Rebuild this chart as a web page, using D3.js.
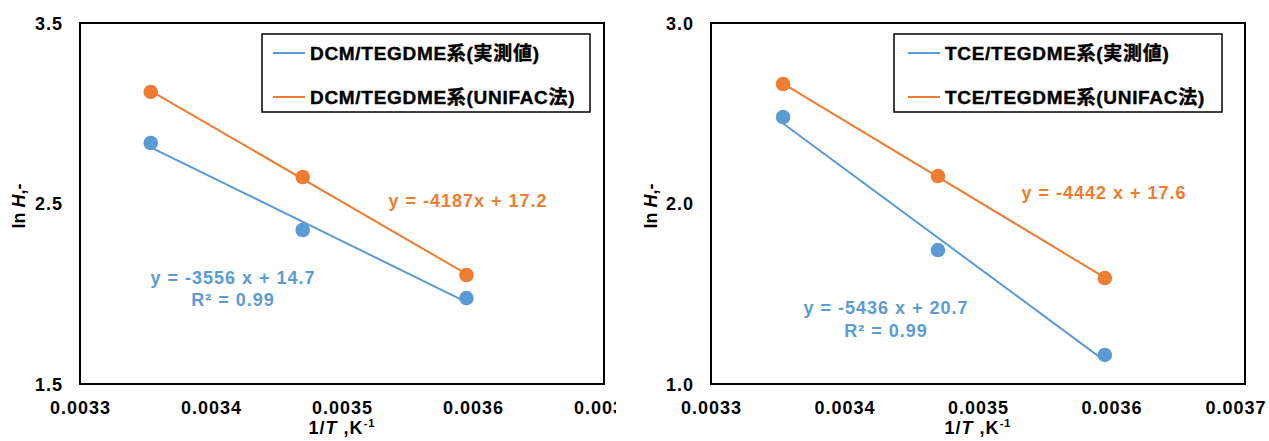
<!DOCTYPE html>
<html>
<head>
<meta charset="utf-8">
<script src="https://cdn.jsdelivr.net/npm/d3@7"></script>
<style>
  body { margin: 0; background: #fff; }
  svg text { font-family: Arial, "Liberation Sans", "Noto Sans CJK JP", sans-serif; font-weight: bold; }
</style>
</head>
<body>
<svg id="chart" width="1269" height="441"></svg>
<script>
// 1/T values (T = 298.15, 288.15, 278.15 K)
var invT = [0.003354, 0.003470, 0.003595];

// ln H values
var dcmMeasured = [2.835, 2.353, 1.976];
var dcmUnifac   = [3.118, 2.647, 2.104];
var tceMeasured = [2.479, 1.742, 1.161];
var tceUnifac   = [2.662, 2.152, 1.587];

var xTicks = [0.0033, 0.0034, 0.0035, 0.0036, 0.0037];
var dcmYTicks = [1.5, 2.5, 3.5];
var tceYTicks = [1.0, 2.0, 3.0];

var dcmLegend = ["DCM/TEGDME系(実測値)", "DCM/TEGDME系(UNIFAC法)"];
var tceLegend = ["TCE/TEGDME系(実測値)", "TCE/TEGDME系(UNIFAC法)"];

var dcmEq = ["y = -3556 x + 14.7", "R² = 0.99", "y = -4187x + 17.2"];
var tceEq = ["y = -5436 x + 20.7", "R² = 0.99", "y = -4442 x + 17.6"];

var blue = "#5B9BD5", orange = "#ED7D31";

var svg = d3.select("#chart");

// least squares fit for the trendline
function fit(xs, ys) {
    var mx = d3.mean(xs), my = d3.mean(ys);
    var sxy = d3.sum(xs, function(x, i) { return (x - mx) * (ys[i] - my); });
    var sxx = d3.sum(xs, function(x) { return (x - mx) * (x - mx); });
    var b = sxy / sxx;
    return { slope: b, icpt: my - b * mx };
}

function drawPanel(p) {
    var g = svg.append("g").attr("clip-path", "url(#" + p.id + ")");
    svg.append("clipPath").attr("id", p.id)
        .append("rect").attr("x", p.clip[0]).attr("y", 0)
        .attr("width", p.clip[1] - p.clip[0]).attr("height", 441);

    var x = d3.scaleLinear().domain([0.0033, 0.0037]).range([p.left, p.right]);
    var y = d3.scaleLinear().domain(d3.extent(p.yTicks)).range([384, 23]);

    // x axis labels
    var xa = g.append("g").attr("transform", "translate(0,384)")
        .call(d3.axisBottom(x).tickValues(xTicks).tickFormat(d3.format(".4f")).tickSize(0));
    xa.select(".domain").remove();
    xa.selectAll("text").attr("dy", null).attr("y", 30)
        .style("font-size", "18px").style("letter-spacing", "1px").attr("fill", "#000");
    if (p.lastLabelEnd) {
        xa.selectAll(".tick:last-of-type text")
            .attr("text-anchor", "end").attr("x", p.lastLabelEnd - p.right);
    }

    var ya = g.append("g").attr("transform", "translate(" + p.left + ",0)")
        .call(d3.axisLeft(y).tickValues(p.yTicks).tickFormat(d3.format(".1f")).tickSize(0));
    ya.select(".domain").remove();
    ya.selectAll("text").attr("x", -17).attr("dy", "0.35em")
        .style("font-size", "18px").style("letter-spacing", "1px").attr("fill", "#000");

    // plot border
    g.append("rect").attr("x", p.left).attr("y", 23)
        .attr("width", p.right - p.left).attr("height", 361)
        .attr("fill", "none").attr("stroke", "#000").attr("stroke-width", 2);

    // axis titles
    var yt = g.append("text")
        .attr("transform", "translate(" + p.ytX + ",206) rotate(-90)")
        .attr("text-anchor", "middle").style("font-size", "18px");
    yt.append("tspan").text("ln ");
    yt.append("tspan").style("font-style", "italic").text("H");
    yt.append("tspan").text(",-");

    var xt = g.append("text").attr("x", (p.left + p.right) / 2).attr("y", 434)
        .attr("text-anchor", "middle").style("font-size", "18px").style("letter-spacing", "1px");
    xt.append("tspan").text("1/");
    xt.append("tspan").style("font-style", "italic").text("T");
    xt.append("tspan").text(" ,K");
    xt.append("tspan").attr("dy", -7).style("font-size", "11px").text("-1");

    // series
    p.series.forEach(function(s) {
        var f = fit(invT, s.values);
        var x0 = d3.min(invT), x1 = d3.max(invT);
        g.append("line")
            .attr("x1", x(x0)).attr("y1", y(f.slope * x0 + f.icpt))
            .attr("x2", x(x1)).attr("y2", y(f.slope * x1 + f.icpt))
            .attr("stroke", s.color).attr("stroke-width", 2);
        g.selectAll(null).data(s.values).join("circle")
            .attr("cx", function(d, i) { return x(invT[i]); })
            .attr("cy", function(d) { return y(d); })
            .attr("r", 7.3)
            .attr("fill", s.color);
    });

    // equations
    p.eqs.forEach(function(e) {
        g.append("text").attr("x", e.x).attr("y", e.y).attr("dy", "0.35em")
            .attr("text-anchor", "middle").attr("fill", e.color)
            .style("font-size", "18px").style("letter-spacing", "1px").text(e.text);
    });

    // legend
    var lg = g.append("g");
    lg.append("rect").attr("x", p.legend.x).attr("y", 34)
        .attr("width", 328).attr("height", 78)
        .attr("fill", "#fff").attr("stroke", "#000").attr("stroke-width", 1.5);
    p.series.forEach(function(s, i) {
        var cy = 53 + i * 44;
        lg.append("line")
            .attr("x1", p.legend.x + p.legend.pad).attr("x2", p.legend.x + p.legend.pad + 32)
            .attr("y1", cy).attr("y2", cy)
            .attr("stroke", s.color).attr("stroke-width", 2);
        lg.append("text").attr("x", p.legend.x + p.legend.pad + 37).attr("y", cy).attr("dy", "0.35em")
            .style("font-size", "19px").style("letter-spacing", "0.7px")
            .style("stroke", "#000").style("stroke-width", 0.4)
            .text(s.label);
    });
}

drawPanel({
    id: "clipL", clip: [0, 616], left: 80, right: 604, ytX: 25,
    yTicks: dcmYTicks,
    legend: { x: 262, pad: 11 },
    series: [
        { values: dcmMeasured, color: blue, label: dcmLegend[0] },
        { values: dcmUnifac, color: orange, label: dcmLegend[1] }
    ],
    eqs: [
        { text: dcmEq[0], x: 233, y: 278, color: blue },
        { text: dcmEq[1], x: 233, y: 300, color: blue },
        { text: dcmEq[2], x: 468, y: 201, color: orange }
    ]
});

drawPanel({
    id: "clipR", clip: [630, 1269], left: 711, right: 1245, ytX: 657,
    yTicks: tceYTicks, lastLabelEnd: 1266,
    legend: { x: 894, pad: 14 },
    series: [
        { values: tceMeasured, color: blue, label: tceLegend[0] },
        { values: tceUnifac, color: orange, label: tceLegend[1] }
    ],
    eqs: [
        { text: tceEq[0], x: 886, y: 308, color: blue },
        { text: tceEq[1], x: 886, y: 331, color: blue },
        { text: tceEq[2], x: 1104, y: 193, color: orange }
    ]
});
</script>
</body>
</html>
